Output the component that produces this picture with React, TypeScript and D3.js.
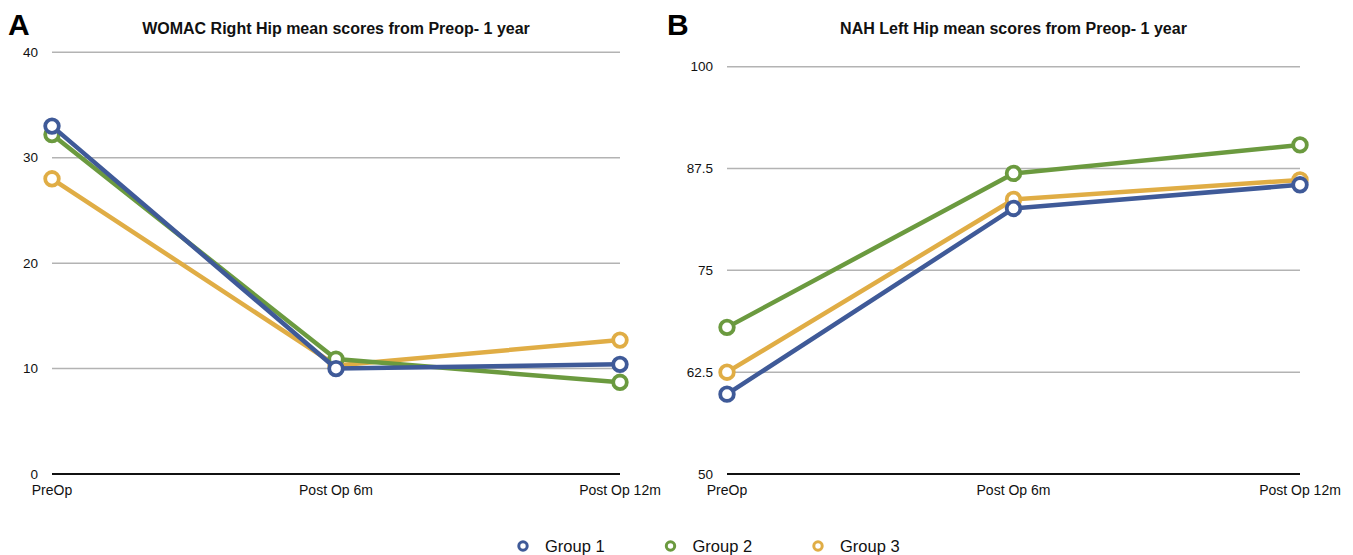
import React from 'react';
import * as d3 from 'd3';

// categories
const periods = ['PreOp', 'Post Op 6m', 'Post Op 12m'];
const groups = ['Group 1', 'Group 2', 'Group 3'];
const groupColors = ['#3f5a98', '#6b9a3f', '#e0ad45'];

// WOMAC right hip (panel A)
const womacG1 = [33.0, 10.0, 10.4];
const womacG2 = [32.2, 10.9, 8.7];
const womacG3 = [28.0, 10.3, 12.7];
const womacTicks = [0, 10, 20, 30, 40];

// NAH left hip (panel B)
const nahG1 = [59.8, 82.6, 85.5];
const nahG2 = [68.0, 86.9, 90.4];
const nahG3 = [62.5, 83.7, 86.1];
const nahTicks = [50, 62.5, 75, 87.5, 100];

const FONT = '"Liberation Sans", Arial, Helvetica, sans-serif';

type PanelProps = {
  letter: string;
  title: string;
  series: number[][];
  ticks: number[];
  x0: number;
  x1: number;
  yTop: number;
  letterX: number;
};

const Panel = ({ letter, title, series, ticks, x0, x1, yTop, letterX }: PanelProps) => {
  const bottom = 474;

  const x = d3.scalePoint<string>().domain(periods).range([x0, x1]);
  const y = d3
    .scaleLinear()
    .domain([ticks[0], ticks[ticks.length - 1]])
    .range([bottom, yTop]);

  const line = d3
    .line<number>()
    .x((d, i) => x(periods[i]) as number)
    .y(d => y(d));

  // yellow first, then green, blue on top
  const order = [2, 1, 0];

  return (
    <g>
      <text x={letterX} y={35} fontFamily={FONT} fontWeight="bold" fontSize={30}>
        {letter}
      </text>
      <text
        x={(x0 + x1) / 2}
        y={34}
        textAnchor="middle"
        fontFamily={FONT}
        fontWeight="bold"
        fontSize={16}
        fill="#111"
      >
        {title}
      </text>

      {ticks.map(t => (
        <g key={t}>
          {t !== ticks[0] && (
            <line x1={x0} x2={x1} y1={y(t)} y2={y(t)} stroke="#b3b3b3" strokeWidth={1.5} />
          )}
          <text
            x={x0 - 14}
            y={y(t)}
            dy="0.35em"
            textAnchor="end"
            fontFamily={FONT}
            fontSize={13.5}
            fill="#111"
          >
            {t}
          </text>
        </g>
      ))}
      <line x1={x0} x2={x1} y1={bottom} y2={bottom} stroke="#111" strokeWidth={2} />

      {periods.map(p => (
        <text
          key={p}
          x={x(p)}
          y={bottom + 21}
          textAnchor="middle"
          fontFamily={FONT}
          fontSize={14}
          fill="#111"
        >
          {p}
        </text>
      ))}

      {order.map(gi => (
        <g key={gi}>
          <path
            d={line(series[gi]) || ''}
            fill="none"
            stroke={groupColors[gi]}
            strokeWidth={4.5}
            strokeLinejoin="round"
          />
          {series[gi].map((v, i) => (
            <circle
              key={i}
              cx={x(periods[i])}
              cy={y(v)}
              r={6.8}
              fill="#fff"
              stroke={groupColors[gi]}
              strokeWidth={3.8}
            />
          ))}
        </g>
      ))}
    </g>
  );
};

const App = () => {
  const legendX = d3.scalePoint<string>().domain(groups).range([523, 818]);
  return (
    <svg
      width={1353}
      height={555}
      style={{ position: 'absolute', left: 0, top: 0, background: '#fff' }}
    >
      <rect width={1353} height={555} fill="#fff" />
      <Panel
        letter="A"
        title="WOMAC Right Hip mean scores from Preop- 1 year"
        series={[womacG1, womacG2, womacG3]}
        ticks={womacTicks}
        x0={52}
        x1={620}
        yTop={52.3}
        letterX={8}
      />
      <Panel
        letter="B"
        title="NAH Left Hip mean scores from Preop- 1 year"
        series={[nahG1, nahG2, nahG3]}
        ticks={nahTicks}
        x0={727}
        x1={1300}
        yTop={66.7}
        letterX={667}
      />
      {groups.map((g, i) => (
        <g key={g} transform={`translate(${legendX(g)},546)`}>
          <circle r={4.2} fill="#fff" stroke={groupColors[i]} strokeWidth={3} />
          <text x={22} dy="0.35em" fontFamily={FONT} fontSize={16.5} fill="#111">
            {g}
          </text>
        </g>
      ))}
    </svg>
  );
};

export default App;
